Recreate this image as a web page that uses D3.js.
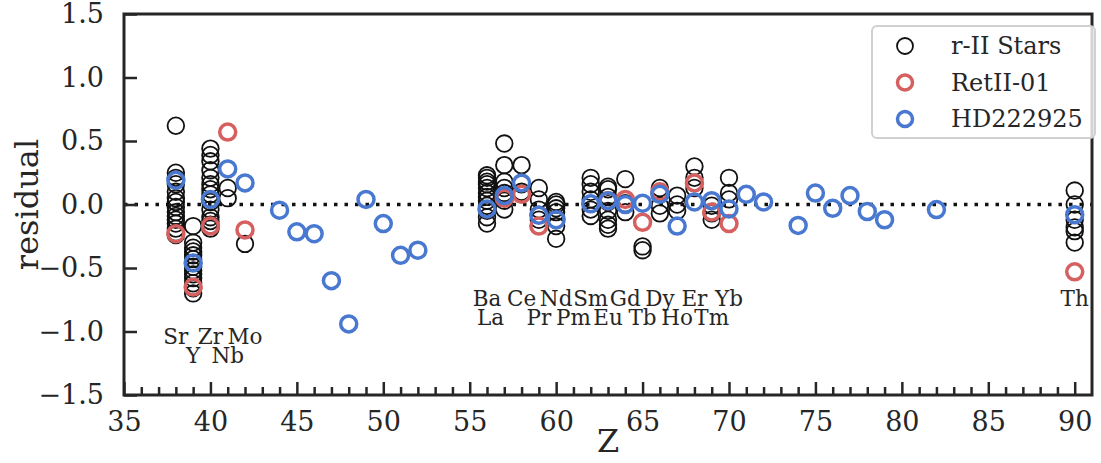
<!DOCTYPE html>
<html><head><meta charset="utf-8">
<script src="https://cdn.jsdelivr.net/npm/d3@7"></script>
<style>body{margin:0;background:#fff}svg{display:block}</style>
</head><body>
<svg id="c" width="1101" height="463"></svg>
<script>
// r-II stars (black)
const rIIZ = [
 38,38,38,38,38,38,38,38,38,38,38,38,38,38,38,
 39,39,39,39,39,39,39,39,39,39,39,39,39,39,
 40,40,40,40,40,40,40,40,40,40,40,40,40,40,
 41,41, 42,
 56,56,56,56,56,56,56,56,56,56,56,56,
 57,57,57,57,57,57,57,
 58,58,58,
 59,59,59,59,59,
 60,60,60,60,60,60,
 62,62,62,62,62,62,
 63,63,63,63,63,63,63,63,
 64,64,64,
 65,65,
 66,66,66,66,
 67,67,67,
 68,68,68,68,
 69,69,69,
 70,70,70,
 90,90,90,90,90,90];
const rIIRes = [
 0.62,0.25,0.21,0.16,0.10,0.05,0.02,-0.02,-0.06,-0.09,-0.12,-0.15,-0.19,-0.22,-0.24,
 -0.17,-0.30,-0.34,-0.37,-0.40,-0.43,-0.46,-0.49,-0.52,-0.55,-0.58,-0.62,-0.66,-0.70,
 0.44,0.39,0.34,0.27,0.21,0.16,0.12,0.08,0.02,-0.04,-0.10,-0.13,-0.16,-0.19,
 0.13,0.05, -0.31,
 0.23,0.21,0.18,0.16,0.13,0.09,0.06,0.03,-0.01,-0.05,-0.10,-0.15,
 0.48,0.31,0.18,0.13,0.09,0.03,-0.04,
 0.31,0.16,0.10,
 0.13,0.04,-0.04,-0.08,-0.12,
 0.02,0.00,-0.03,-0.06,-0.17,-0.27,
 0.21,0.16,0.10,0.04,-0.04,-0.09,
 0.14,0.12,0.06,0.02,-0.05,-0.12,-0.16,-0.19,
 0.20,0.01,-0.06,
 -0.33,-0.36,
 0.13,0.09,-0.01,-0.07,
 0.07,0.00,-0.05,
 0.30,0.21,0.17,0.13,
 -0.01,-0.07,-0.12,
 0.21,0.09,0.04,
 0.11,0.00,-0.12,-0.18,-0.21,-0.30];
// RetII-01 (red)
const retZ   = [38,39,40,41,42,57,58,59,63,64,65,66,68,69,70,90];
const retRes = [-0.23,-0.65,-0.17,0.57,-0.20,0.05,0.08,-0.17,0.03,0.04,-0.14,0.10,0.17,-0.06,-0.15,-0.53];
// HD222925 (blue)
const hdZ   = [38,39,40,41,42,44,45,46,47,48,49,50,51,52,56,57,58,59,60,62,63,64,65,66,67,68,69,70,71,72,74,75,76,77,78,79,82,90];
const hdRes = [0.19,-0.46,0.04,0.28,0.17,-0.045,-0.215,-0.23,-0.60,-0.94,0.04,-0.15,-0.40,-0.36,-0.035,0.07,0.17,-0.085,-0.12,0.005,0.03,0.0,0.01,0.08,-0.17,0.02,0.03,-0.035,0.08,0.02,-0.165,0.09,-0.03,0.07,-0.055,-0.12,-0.04,-0.08];
// element labels
const elNames = ["Sr","Y","Zr","Nb","Mo","Ba","La","Ce","Pr","Nd","Pm","Sm","Eu","Gd","Tb","Dy","Ho","Er","Tm","Yb","Th"];
const elZ     = [38,39,40,41,42,56,56.2,58,59,60,61,62,63,64,65,66,67,68,69,70,90];
const elY     = [-1.1,-1.25,-1.1,-1.25,-1.1,-0.8,-0.95,-0.8,-0.95,-0.8,-0.95,-0.8,-0.95,-0.8,-0.95,-0.8,-0.95,-0.8,-0.95,-0.8,-0.8];
const xTicks = [35,40,45,50,55,60,65,70,75,80,85,90];
const yTicks = [-1.5,-1.0,-0.5,0.0,0.5,1.0,1.5];
const legendNames = ["r-II Stars","RetII-01","HD222925"];

const TXT = "#262626", RED = "#d65f5f", BLUE = "#4878d0";
const FONT = "'DejaVu Serif', serif";
const svg = d3.select("#c");
const L = 124, R = 1092, T = 14, B = 395;
const x = d3.scaleLinear().domain([35,91]).range([L,R]);
const y = d3.scaleLinear().domain([-1.5,1.5]).range([B,T]);
const fmt = v => (v < 0 ? "\u2212" : "") + Math.abs(v).toFixed(1);

// zero line
svg.append("line").attr("x1",L).attr("x2",R).attr("y1",y(0)).attr("y2",y(0))
  .attr("stroke","#111").attr("stroke-width",3.5).attr("stroke-dasharray","3.5 7");

// points
const g = svg.append("g");
g.selectAll("circle.k").data(rIIZ.map((z,i)=>[z,rIIRes[i]])).join("circle")
  .attr("cx",d=>x(d[0])).attr("cy",d=>y(d[1])).attr("r",8.3)
  .attr("fill","none").attr("stroke","#111").attr("stroke-width",1.8);
g.selectAll("circle.r").data(retZ.map((z,i)=>[z,retRes[i]])).join("circle")
  .attr("cx",d=>x(d[0])).attr("cy",d=>y(d[1])).attr("r",8)
  .attr("fill","none").attr("stroke",RED).attr("stroke-width",3.5);
g.selectAll("circle.b").data(hdZ.map((z,i)=>[z,hdRes[i]])).join("circle")
  .attr("cx",d=>x(d[0])).attr("cy",d=>y(d[1])).attr("r",8)
  .attr("fill","none").attr("stroke",BLUE).attr("stroke-width",3.5);

// element labels
svg.append("g").selectAll("text").data(elNames).join("text")
  .attr("x",(d,i)=>x(elZ[i])).attr("y",(d,i)=>y(elY[i]))
  .attr("text-anchor","middle").attr("font-family",FONT).attr("font-size",21.5)
  .attr("fill",TXT).text(d=>d);

// axes
const xAx = svg.append("g").attr("transform",`translate(0,${B})`)
  .call(d3.axisBottom(x).tickValues(xTicks).tickSize(-13).tickPadding(17).tickFormat(d3.format("d")));
const xMin = svg.append("g").attr("transform",`translate(0,${B})`)
  .call(d3.axisBottom(x).tickValues(d3.range(36,91).filter(v=>v%5)).tickSize(-8).tickFormat(""));
const yAx = svg.append("g").attr("transform",`translate(${L},0)`)
  .call(d3.axisLeft(y).tickValues(yTicks).tickSize(-13).tickPadding(20).tickFormat(fmt));
[xAx,xMin,yAx].forEach(a=>{
  a.select(".domain").remove();
  a.selectAll(".tick line").attr("stroke",TXT).attr("stroke-width",2.5);
  a.selectAll("text").attr("font-family",FONT).attr("font-size",27).attr("fill",TXT);
});
// frame
svg.append("rect").attr("x",L).attr("y",T).attr("width",R-L).attr("height",B-T)
  .attr("fill","none").attr("stroke",TXT).attr("stroke-width",3);

// axis labels
svg.append("text").attr("x",(L+R)/2).attr("y",452).attr("text-anchor","middle")
  .attr("font-family",FONT).attr("font-size",32).attr("fill",TXT).text("Z");
svg.append("text").attr("transform",`translate(38,${(T+B)/2}) rotate(-90)`).attr("text-anchor","middle")
  .attr("font-family",FONT).attr("font-size",32).attr("fill",TXT).text("residual");

// legend
const lg = svg.append("g");
lg.append("rect").attr("x",872).attr("y",26).attr("width",223).attr("height",112).attr("rx",5)
  .attr("fill","#fff").attr("fill-opacity",0.8).attr("stroke","#d0d0d0").attr("stroke-width",2);
const lcol = ["#111",RED,BLUE], lsw = [1.8,3.5,3.5];
legendNames.forEach((n,i)=>{
  const cy = 46 + i*36.5;
  lg.append("circle").attr("cx",905).attr("cy",cy).attr("r",i?7.5:8).attr("fill","none")
    .attr("stroke",lcol[i]).attr("stroke-width",lsw[i]);
  lg.append("text").attr("x",951).attr("y",cy).attr("dy","0.35em").attr("font-family",FONT)
    .attr("font-size",24).attr("fill",TXT).text(n);
});
</script>
</body></html>
